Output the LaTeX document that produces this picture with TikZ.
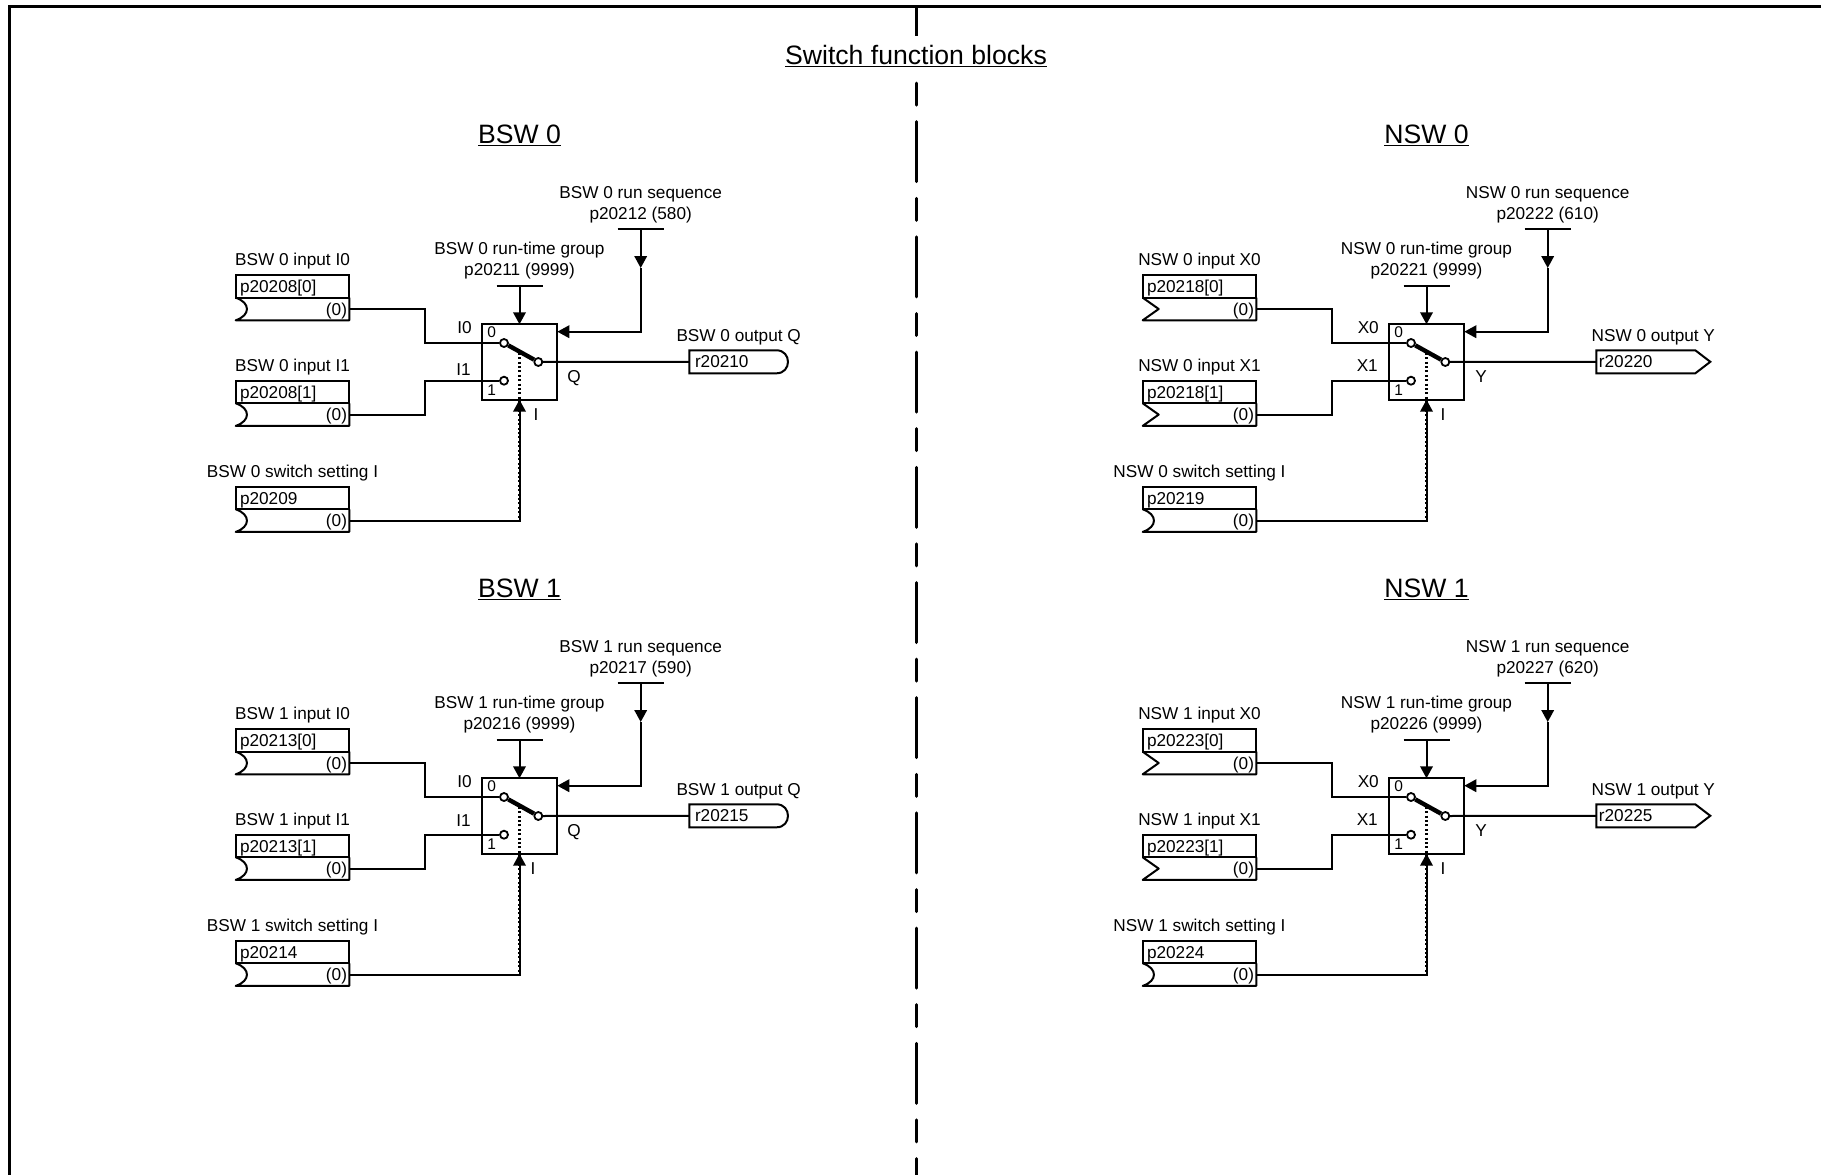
\documentclass[tikz,border=0pt]{standalone}
\usepackage{fontspec}
\setmainfont{Liberation Sans}
\usetikzlibrary{arrows.meta, positioning, calc}

% Open left end of a parameter cell, and the closed output tags
\newcommand{\bowin}[1]{\draw[wire, line join=round] (#1.north east) -- (#1.south east) -- (#1.south west)
  .. controls +(15,-5) and +(15,5) .. (#1.north west);}
\newcommand{\chevin}[1]{\draw[wire, line join=round] (#1.north east) -- (#1.south east) -- (#1.south west)
  -- ($(#1.west)+(16,0)$) -- (#1.north west);}
\newcommand{\roundout}[1]{\draw[wire] (#1.south west) -- (#1.north west)
  -- ($(#1.north east)+(-11.5,0)$) .. controls +(15.3,0) and +(15.3,0) .. ($(#1.south east)+(-11.5,0)$) -- cycle;}
\newcommand{\pointout}[1]{\draw[wire] (#1.south west) -- (#1.north west)
  -- ($(#1.north east)+(-15,0)$) -- (#1.east) -- ($(#1.south east)+(-15,0)$) -- cycle;}

\begin{document}
\begin{tikzpicture}[
  x=1pt, y=-1pt,
  >={Triangle[length=12pt, width=12.5pt]},
  wire/.style={line width=2pt},
  parcell/.style={minimum height=22.6pt, text width=105pt, inner xsep=4.3pt, inner ysep=0pt,
    outer sep=0pt, text height=14pt, text depth=2pt, line width=2pt},
  valcell/.style={parcell, text width=109pt, inner xsep=2.3pt},
  txt/.style={font=\fontsize{17.2}{21}\selectfont},
  lbl/.style={txt, inner sep=0pt, text depth=0pt, align=center},
  pinlbl/.style={txt, inner sep=0pt, anchor=base},
  swnum/.style={font=\fontsize{15.5}{18}\selectfont, inner sep=0pt, anchor=base},
  head/.style={font=\fontsize{26.6}{30}\selectfont, anchor=base, inner sep=0pt},
  switchbox/.style={draw, line width=2pt, minimum width=75.6pt, minimum height=75.4pt,
    inner sep=0pt, outer sep=0pt},
  term/.style={draw, circle, fill=white, line width=1.8pt, minimum size=8pt, inner sep=0pt},
  dotline/.style={line width=2.1pt, dash pattern=on 2pt off 2.4pt},
  roundtag/.style={txt, minimum height=23pt, text width=87.3pt, inner xsep=5.7pt, inner ysep=0pt,
    outer sep=0pt, text height=13.5pt, text depth=2.5pt, anchor=west},
  pointtag/.style={txt, minimum height=23pt, text width=108.8pt, inner xsep=2.6pt, inner ysep=0pt,
    outer sep=0pt, text height=13.5pt, text depth=2.5pt, anchor=west},
]
\useasboundingbox (0,0) rectangle (1821,1175);

% Sheet frame and centre line
\draw[line width=3.2pt] (9.5,1175) -- (9.5,6.5) -- (1821,6.5);
\draw[line width=3pt, line cap=round, dash pattern=on 60pt off 16.6pt on 22pt off 16.6pt] (916,6.5) -- (916,1175);

% Title
\node[head, fill=white, inner xsep=4pt, inner ysep=9.5pt] (title) at (916,64.5)
  {\underline{Switch function blocks}};

% === The four switch blocks ===
\foreach \blk/\dx/\dy/\fb/\ia/\ib/\oq/\pin/\pset/\pgrp/\pseq/\rout/\ishape/\oshape/\otag/\ibase/\ix in {
  bsw0/0/0/BSW 0/I0/I1/Q/p20208/p20209/p20211 (9999)/p20212 (580)/r20210/\bowin/\roundout/roundtag/375/536,
  bsw1/0/454/BSW 1/I0/I1/Q/p20213/p20214/p20216 (9999)/p20217 (590)/r20215/\bowin/\roundout/roundtag/372.6/533,
  nsw0/907/0/NSW 0/X0/X1/Y/p20218/p20219/p20221 (9999)/p20222 (610)/r20220/\chevin/\pointout/pointtag/371.5/536,
  nsw1/907/454/NSW 1/X0/X1/Y/p20223/p20224/p20226 (9999)/p20227 (620)/r20225/\chevin/\pointout/pointtag/371.5/536}
{
\begin{scope}[shift={(\dx,\dy)}]

  \node[head] (\blk head) at (519.5,143.5) {\underline{\fb}};

  % Parameter cells on the left
  \node[parcell, txt, draw, align=left] (\blk a) at (292.5,286.4) {\pin[0]};
  \node[valcell, txt, align=right, below=0pt of \blk a] (\blk ac) {(0)};
  \node[lbl, above=9pt of \blk a] (\blk al) {\fb\ input \ia};
  \ishape{\blk ac}

  \node[parcell, txt, draw, align=left] (\blk b) at (292.5,392) {\pin[1]};
  \node[valcell, txt, align=right, below=0pt of \blk b] (\blk bc) {(0)};
  \node[lbl, above=9pt of \blk b] (\blk bl) {\fb\ input \ib};
  \ishape{\blk bc}

  \node[parcell, txt, draw, align=left] (\blk s) at (292.5,498) {\pset};
  \node[valcell, txt, align=right, below=0pt of \blk s] (\blk sc) {(0)};
  \node[lbl, above=9pt of \blk s] (\blk sl) {\fb\ switch setting I};
  \bowin{\blk sc}

  % Switch
  \node[switchbox] (\blk sw) at (519.5,362) {};
  \node[term] (\blk t0) at (504,343) {};
  \node[term] (\blk t1) at (504,380.7) {};
  \node[term] (\blk tq) at (538.3,362) {};
  \draw[line width=4.4pt] (\blk t0) -- (\blk tq);
  \node[swnum] (\blk n0) at (491.7,337.7) {0};
  \node[swnum] (\blk n1) at (491.7,395) {1};
  \node[pinlbl, anchor=base east] (\blk li0) at (472,333) {\ia};
  \node[pinlbl, anchor=base east] (\blk li1) at (471,\ibase) {\ib};
  \node[pinlbl] (\blk lq) at (574,382.5) {\oq};
  \node[pinlbl] (\blk li) at (\ix,420) {I};

  % Inputs
  \draw[wire] (\blk ac.east) -- ++(75.7,0) |- (\blk t0);
  \draw[wire] (\blk bc.east) -- ++(75.7,0) |- (\blk t1);

  % Switch setting: dotted control line over the solid one
  \coordinate (\blk dt) at (519.5,352.8);
  \draw[dotline] (\blk dt) -- (\blk dt |- \blk sc.east);
  \draw[wire, ->] (\blk sc.east) -| (\blk sw.south);

  % Run-time group
  \coordinate (\blk grp) at (519.5,286.3);
  \node[lbl, above=10.6pt of \blk grp] (\blk grpl) {\fb\ run-time group\\\pgrp};
  \draw[line width=1.8pt] ([xshift=-23pt]\blk grp) -- ([xshift=23pt]\blk grp);
  \draw[wire, ->] (\blk grp) -- (\blk sw.north);

  % Run sequence
  \coordinate (\blk seq) at (640.7,229.3);
  \coordinate (\blk seqm) at (640.7,268);
  \coordinate (\blk seqin) at (557.3,331.7);
  \node[lbl, above=9.3pt of \blk seq] (\blk seql) {\fb\ run sequence\\\pseq};
  \draw[line width=1.8pt] ([xshift=-23pt]\blk seq) -- ([xshift=23pt]\blk seq);
  \draw[wire, ->] (\blk seq) -- (\blk seqm);
  \draw[wire, ->] (\blk seqm) |- (\blk seqin);

  % Output
  \node[\otag] (\blk out) at (689.3,361.8) {\rout};
  \oshape{\blk out}
  \node[lbl, above=8.3pt of \blk out] (\blk outl) {\fb\ output \oq};
  \draw[wire] (\blk tq) -- (\blk out.west);

\end{scope}
}

\end{tikzpicture}
\end{document}
